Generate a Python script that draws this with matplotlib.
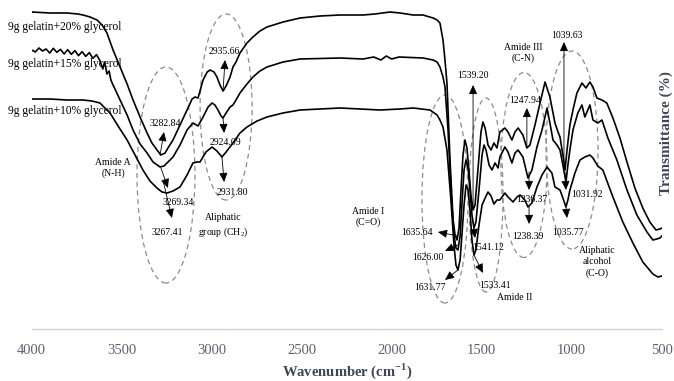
import matplotlib
matplotlib.use('Agg')
import matplotlib.pyplot as plt
from matplotlib.patches import Ellipse

plt.rcParams['font.family'] = ['Liberation Serif', 'DejaVu Serif']
plt.rcParams['mathtext.fontset'] = 'custom'
plt.rcParams['mathtext.rm'] = 'Liberation Serif'
plt.rcParams['mathtext.bf'] = 'Liberation Serif:bold'

# FTIR spectra, values (transmittance in arbitrary %)
wn_20 = [4000, 3898, 3804, 3743, 3715, 3676, 3637, 3609, 3582, 3548,
         3509, 3470, 3437, 3398, 3359, 3332, 3304, 3282, 3259, 3243,
         3215, 3176, 3137, 3109, 3093, 3076, 3048, 3025, 3009, 2987,
         2971, 2954, 2937, 2920, 2898, 2882, 2865, 2843, 2804, 2771,
         2732, 2693, 2604, 2509, 2398, 2287, 2159, 2093, 2009, 1954,
         1881, 1826, 1770, 1748, 1732, 1715, 1704, 1693, 1676, 1659,
         1648, 1637, 1626, 1615, 1604, 1593, 1582, 1571, 1560, 1548,
         1537, 1521, 1504, 1493, 1481, 1465, 1448, 1432, 1415, 1399,
         1371, 1354, 1332, 1315, 1298, 1271, 1249, 1232, 1204, 1176,
         1148, 1121, 1093, 1076, 1065, 1049, 1037, 1026, 1010, 993,
         971, 943, 921, 899, 882, 860, 832, 805, 771, 732,
         693, 649, 605, 566, 532, 510, 499]
t_20 = [95.1, 94.8, 94.8, 94.5, 94.2, 93.6, 92.7, 91.2, 88.8, 83.7,
        78.6, 73.5, 68.7, 63.6, 58.8, 55.8, 53.7, 52.2, 52.8, 54.3,
        56.7, 61.2, 65.7, 69.0, 69.6, 69.3, 74.7, 77.1, 77.7, 77.1,
        75.6, 73.2, 71.4, 72.9, 75.6, 78.6, 80.1, 82.8, 85.8, 87.6,
        89.4, 90.6, 92.1, 93.3, 93.9, 94.2, 94.2, 94.5, 95.1, 94.8,
        94.2, 94.2, 93.3, 92.7, 91.8, 86.7, 80.7, 73.8, 50.7, 32.7,
        28.2, 26.7, 30.3, 41.7, 52.2, 56.7, 54.3, 47.7, 40.2, 35.7,
        37.2, 47.7, 59.1, 62.1, 60.3, 55.2, 53.7, 55.8, 54.3, 59.1,
        60.3, 59.1, 56.7, 59.1, 60.3, 58.2, 54.3, 55.2, 61.2, 67.8,
        74.1, 69.6, 61.8, 59.1, 57.6, 52.2, 47.7, 53.7, 61.2, 65.7,
        70.8, 73.8, 72.3, 74.1, 72.6, 69.3, 68.7, 67.8, 63.3, 57.3,
        50.1, 42.3, 36.3, 32.1, 29.7, 30.0, 30.3]

wn_15 = [4000, 3980, 3960, 3940, 3920, 3900, 3880, 3860, 3840, 3820,
         3800, 3780, 3760, 3740, 3720, 3700, 3680, 3660, 3640, 3620,
         3605, 3595, 3582, 3570, 3560, 3548, 3509, 3470, 3437, 3398,
         3359, 3326, 3287, 3265, 3243, 3215, 3176, 3137, 3104, 3076,
         3048, 3020, 2998, 2982, 2965, 2948, 2937, 2920, 2898, 2882,
         2865, 2843, 2804, 2771, 2732, 2693, 2604, 2509, 2287, 2159,
         2100, 2060, 2030, 2000, 1960, 1826, 1770, 1748, 1732, 1715,
         1704, 1687, 1671, 1654, 1643, 1632, 1620, 1610, 1598, 1587,
         1576, 1565, 1554, 1543, 1532, 1515, 1498, 1487, 1476, 1459,
         1443, 1426, 1409, 1399, 1371, 1354, 1332, 1315, 1298, 1271,
         1243, 1221, 1193, 1165, 1137, 1121, 1104, 1082, 1065, 1049,
         1032, 1021, 1010, 993, 966, 943, 927, 899, 882, 855,
         832, 799, 749, 693, 638, 582, 549, 527, 510, 499]
t_15 = [83.7, 83.1, 84.3, 83.4, 84.0, 82.8, 84.2, 83.0, 83.9, 82.5,
        83.8, 82.4, 83.5, 82.0, 83.2, 81.8, 82.9, 81.2, 82.3, 80.4,
        78.0, 80.1, 76.5, 77.4, 74.7, 73.2, 68.7, 64.2, 59.7, 55.5,
        52.8, 50.1, 48.6, 48.9, 50.1, 51.6, 55.2, 59.7, 61.8, 60.9,
        63.6, 66.6, 67.8, 67.2, 65.7, 63.9, 63.3, 64.8, 66.6, 67.2,
        68.7, 70.8, 73.5, 75.6, 77.4, 78.6, 80.1, 81.0, 81.3, 81.0,
        81.6, 80.7, 81.9, 81.0, 81.6, 81.3, 80.7, 80.1, 78.6, 75.6,
        72.6, 59.7, 41.7, 28.2, 24.3, 23.7, 27.9, 37.2, 47.7, 50.7,
        48.3, 41.7, 34.2, 30.3, 32.1, 41.7, 52.2, 55.2, 53.7, 49.2,
        47.7, 49.8, 48.3, 51.6, 54.6, 53.1, 49.8, 52.8, 53.7, 51.6,
        45.3, 47.7, 54.6, 59.7, 66.3, 61.8, 56.7, 55.2, 53.7, 49.2,
        44.1, 49.2, 53.7, 59.7, 64.8, 67.2, 63.6, 67.2, 62.7, 61.8,
        62.7, 57.3, 50.7, 41.7, 34.2, 29.1, 26.7, 27.0, 27.3, 27.9]

wn_10 = [4000, 3898, 3804, 3715, 3665, 3621, 3593, 3565, 3520, 3470,
         3426, 3382, 3343, 3304, 3276, 3248, 3215, 3176, 3137, 3104,
         3082, 3065, 3032, 2998, 2971, 2943, 2920, 2882, 2843, 2804,
         2748, 2693, 2604, 2509, 2287, 2065, 1954, 1881, 1787, 1748,
         1732, 1715, 1693, 1671, 1654, 1643, 1632, 1620, 1610, 1598,
         1587, 1576, 1565, 1554, 1543, 1532, 1515, 1498, 1481, 1465,
         1448, 1432, 1415, 1399, 1371, 1354, 1326, 1304, 1287, 1260,
         1243, 1221, 1193, 1165, 1137, 1110, 1093, 1065, 1049, 1032,
         1021, 1010, 982, 954, 927, 899, 882, 855, 827, 771,
         716, 660, 605, 549, 521, 499]
t_10 = [69.0, 69.0, 68.7, 68.7, 68.4, 67.8, 66.3, 64.8, 60.9, 56.7,
        52.2, 47.7, 44.4, 42.3, 41.1, 40.8, 41.4, 42.6, 46.2, 49.8,
        50.1, 50.1, 53.1, 54.6, 53.4, 51.6, 53.1, 55.8, 58.8, 60.6,
        62.4, 63.6, 64.8, 65.7, 66.3, 65.7, 66.0, 66.3, 65.7, 64.2,
        62.7, 60.6, 53.7, 38.7, 25.2, 19.2, 17.7, 20.7, 28.2, 37.2,
        43.2, 41.7, 35.7, 26.7, 22.2, 23.7, 31.2, 37.2, 39.3, 41.1,
        39.9, 37.5, 38.7, 38.7, 40.8, 39.6, 38.1, 39.6, 40.2, 38.7,
        36.6, 37.8, 42.6, 46.2, 48.6, 46.8, 42.6, 41.7, 39.3, 36.6,
        38.7, 41.7, 46.8, 50.7, 51.6, 52.2, 51.3, 48.9, 47.7, 39.6,
        32.1, 25.8, 20.1, 16.5, 15.6, 15.9]

series_names = ['9g gelatin+20% glycerol', '9g gelatin+15% glycerol', '9g gelatin+10% glycerol']
name_T = [90.6, 79.5, 65.4]

xticks = [4000, 3500, 3000, 2500, 2000, 1500, 1000, 500]

# peak labels: text, label (wn, T), arrow tail (wn, T), arrow head (wn, T)
peaks = [
    ('3282.84', (3259, 61.5), (3287, 52.2), (3265, 59.1)),
    ('2935.66', (2932, 83.1), (2937, 71.4), (2926, 80.7)),
    ('2924.09', (2926, 55.8), (2937, 63.3), (2931, 58.8)),
    ('2931.80', (2887, 40.8), (2943, 51.6), (2931, 44.1)),
    ('3269.34', (3187, 37.8), (3282, 48.3), (3243, 42.3)),
    ('3267.41', (3248, 28.8), (3271, 44.7), (3221, 33.3)),
    ('1635.64', (1859, 28.8), (1632, 27.9), (1743, 29.1)),
    ('1626.00', (1798, 21.6), (1632, 25.2), (1704, 23.4)),
    ('1631.77', (1787, 12.3), (1632, 17.7), (1704, 14.7)),
    ('1539.20', (1548, 75.9), (1548, 36.3), (1548, 73.2)),
    ('1541.12', (1465, 24.3), (1548, 32.1), (1537, 27.3)),
    ('1533.41', (1426, 13.2), (1543, 22.2), (1493, 16.8)),
    ('1247.94', (1259, 68.4), (1249, 54.6), (1249, 66.3)),
    ('1236.37', (1220, 38.7), (1237, 47.1), (1237, 41.7)),
    ('1238.39', (1243, 27.6), (1237, 36.6), (1237, 31.5)),
    ('1039.63', (1026, 87.9), (1043, 47.7), (1043, 86.1)),
    ('1031.92', (915, 40.2), (1037, 47.1), (1032, 41.7)),
    ('1035.77', (1020, 28.8), (1032, 36.6), (1026, 33.3)),
]

# band group labels and their dashed ellipses: centre (wn, T), width, height
groups = [
    ('Amide A\n(N-H)', (3548, 48.3)),
    ('Aliphatic\ngroup (CH$_2$)', (2937, 30.9)),
    ('Amide I\n(C=O)', (2132, 33.6)),
    ('Amide II', (1315, 9.6)),
    ('Amide III\n(C-N)', (1270, 82.8)),
    ('Aliphatic\nalcohol\n(C-O)', (859, 20.1)),
]
ellipses = [
    ((3254, 46.2), 322, 64.8),
    ((2920, 66.6), 289, 55.8),
    ((1704, 39.0), 256, 62.4),
    ((1476, 40.2), 189, 58.2),
    ((1265, 49.2), 256, 55.5),
    ((998, 53.7), 289, 59.4),
]

fig = plt.figure(figsize=(6.74, 3.81), dpi=100)
ax = fig.add_axes([31.7 / 674, 1 - 329 / 381, 630 / 674, 329 / 381])

for (c, w, h) in ellipses:
    ax.add_patch(Ellipse(c, w, h, fill=False, ec='#8c8c8c', lw=0.9, ls=(0, (4, 3))))

for wn, t in [(wn_20, t_20), (wn_15, t_15), (wn_10, t_10)]:
    ax.plot(wn, t, color='black', lw=1.2)

for name, y in zip(series_names, name_T):
    ax.text(4132, y, name, ha='left', va='center', fontsize=8.3, color='black')

for txt, lab, tail, head in peaks:
    ax.annotate('', xy=head, xytext=tail,
                arrowprops=dict(arrowstyle='-|>,head_length=0.55,head_width=0.25',
                                color='black', lw=0.6, shrinkA=0, shrinkB=0))
    ax.text(lab[0], lab[1], txt, ha='center', va='center', fontsize=7)

for txt, pos in groups:
    ax.text(pos[0], pos[1], txt, ha='center', va='center', fontsize=7, linespacing=1.3)

ax.set_xlim(4000, 500)
ax.set_ylim(0, 98.7)
ax.set_xticks(xticks)
ax.set_xticklabels([str(v) for v in xticks])
ax.set_yticks([])
ax.tick_params(axis='x', length=0, pad=11, labelsize=10.5, labelcolor='#5b6170')
for s in ['top', 'right', 'left']:
    ax.spines[s].set_visible(False)
ax.spines['bottom'].set_color('#c9d2de')
ax.spines['bottom'].set_linewidth(1.0)
ax.patch.set_alpha(0)

fig.text(346.7 / 674, 1 - 371 / 381, r'Wavenumber (cm$^{\mathbf{-1}}$)', ha='center', va='center',
         fontsize=10.5, fontweight='bold', color='#3c4658')
fig.text(666 / 674, 1 - 133 / 381, 'Transmittance (%)', ha='center', va='center', rotation=90,
         fontsize=11, fontweight='bold', color='#3c4658')

fig.savefig('out.png', dpi=100)
